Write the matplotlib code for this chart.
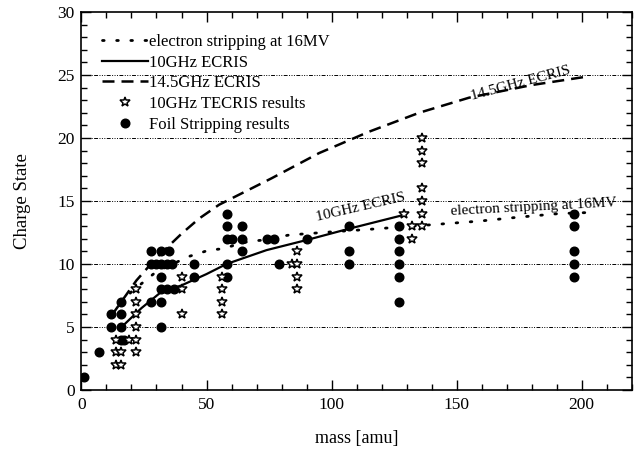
import matplotlib
matplotlib.use("Agg")
import matplotlib.pyplot as plt
from matplotlib.ticker import MultipleLocator

plt.rcParams['font.family'] = ['Liberation Serif', 'DejaVu Serif']

# --- data ---
strip_mass = [12, 20, 30, 43, 51, 56, 67, 73, 83, 100, 115, 139, 159, 174, 191, 205]
strip_q = [6.0, 7.8, 9.4, 10.6, 11.1, 11.2, 11.8, 11.9, 12.3, 12.55, 12.75, 13.1, 13.4, 13.7, 14.0, 14.1]

ecr10_mass = [15, 24, 32, 40, 50, 58, 74, 90, 107, 121, 129]
ecr10_q = [4.8, 6.5, 7.8, 8.3, 9.2, 10.0, 11.1, 11.9, 12.8, 13.5, 13.9]

ecr14_mass = [12, 22, 30, 40, 47, 55, 60, 70, 76, 95, 115, 135, 155, 180, 203]
ecr14_q = [5.9, 8.7, 10.5, 12.4, 13.6, 14.7, 15.2, 16.2, 16.8, 18.8, 20.5, 22.0, 23.2, 24.2, 24.9]

tecris_mass = [14, 16, 14, 16, 22, 14, 19, 22, 22, 22, 22, 22, 40, 40, 40,
               56, 56, 56, 56, 84, 86, 86, 86, 86, 129, 132, 132, 136, 136,
               136, 136, 136, 136, 136]
tecris_q = [2, 2, 3, 3, 3, 4, 4, 4, 5, 6, 7, 8, 6, 8, 9,
            6, 7, 8, 9, 10, 8, 9, 10, 11, 14, 12, 13, 13, 14,
            15, 16, 18, 19, 20]

foil_mass = [1, 7, 12, 12, 16, 17, 16, 16, 16,
             28, 28, 28, 30, 32, 32, 32, 32, 32, 32, 34, 34, 35, 36, 37,
             45, 45, 58, 58, 58, 58, 58, 60, 64, 64, 64, 74, 77, 79, 90,
             107, 107, 107, 127, 127, 127, 127, 127, 127,
             197, 197, 197, 197, 197]
foil_q = [1, 3, 5, 6, 4, 4, 5, 6, 7,
          7, 10, 11, 10, 5, 7, 8, 9, 10, 11, 8, 10, 11, 10, 8,
          9, 10, 9, 10, 12, 13, 14, 12, 11, 12, 13, 12, 12, 10, 12,
          10, 11, 13, 7, 9, 10, 11, 12, 13,
          9, 10, 11, 13, 14]

legend_labels = ["electron stripping at 16MV", "10GHz ECRIS", "14.5GHz ECRIS",
                 "10GHz TECRIS results", "Foil Stripping results"]

fig = plt.figure(figsize=(6.43, 4.51), dpi=100)
ax = fig.add_axes([0.1267, 0.1353, 0.9824 - 0.1267, 0.9734 - 0.1353])

# grid lines
for g in [5, 10, 15, 20, 25]:
    ax.axhline(g, color='black', lw=0.7,
               linestyle=(0, (4, 1.5, 1, 1.5, 1, 1.5, 1, 1.5)), zorder=1)

ax.plot(strip_mass, strip_q, color='black', lw=2.0, linestyle=(0, (0.6, 4.5)),
        dash_capstyle='round', label=legend_labels[0], zorder=2)
ax.plot(ecr10_mass, ecr10_q, color='black', lw=1.6, label=legend_labels[1], zorder=2)
ax.plot(ecr14_mass, ecr14_q, color='black', lw=1.8, linestyle=(0, (4.8, 2.8)),
        label=legend_labels[2], zorder=2)
ax.plot(tecris_mass, tecris_q, linestyle='none', marker='*', ms=7.5,
        mfc='white', mec='black', mew=1.1, label=legend_labels[3], zorder=4)
ax.plot(foil_mass, foil_q, linestyle='none', marker='o', ms=6.2,
        mfc='black', mec='black', label=legend_labels[4], zorder=3)

ax.set_xlim(0, 220)
ax.set_ylim(0, 30)
ax.xaxis.set_major_locator(MultipleLocator(50))
ax.xaxis.set_minor_locator(MultipleLocator(10))
ax.yaxis.set_major_locator(MultipleLocator(5))
ax.yaxis.set_minor_locator(MultipleLocator(1))
ax.tick_params(which='both', direction='in', top=True, right=True, labelsize=12.5, width=1.0)
ax.tick_params(which='major', length=7, pad=5)
ax.tick_params(which='minor', length=4)
for s in ax.spines.values():
    s.set_linewidth(1.2)

ax.set_xlabel("mass [amu]", fontsize=13, labelpad=12)
ax.set_ylabel("Charge State", fontsize=13.5, labelpad=19)

# curve labels
ax.text(94, 13.45, "10GHz ECRIS", fontsize=11, rotation=13, rotation_mode='anchor',
        ha='left', va='baseline')
ax.text(147.5, 13.85, "electron stripping at 16MV", fontsize=11, rotation=3,
        rotation_mode='anchor', ha='left', va='baseline')
ax.text(156, 23.0, "14.5GHz ECRIS", fontsize=11, rotation=15, rotation_mode='anchor',
        ha='left', va='baseline')

ax.legend(loc='upper left', bbox_to_anchor=(0.0367, 0.942), frameon=False,
          fontsize=12, handlelength=2.8, handletextpad=0.05, labelspacing=0.28,
          borderpad=0, borderaxespad=0, numpoints=1)

fig.savefig("out.png", dpi=100)
